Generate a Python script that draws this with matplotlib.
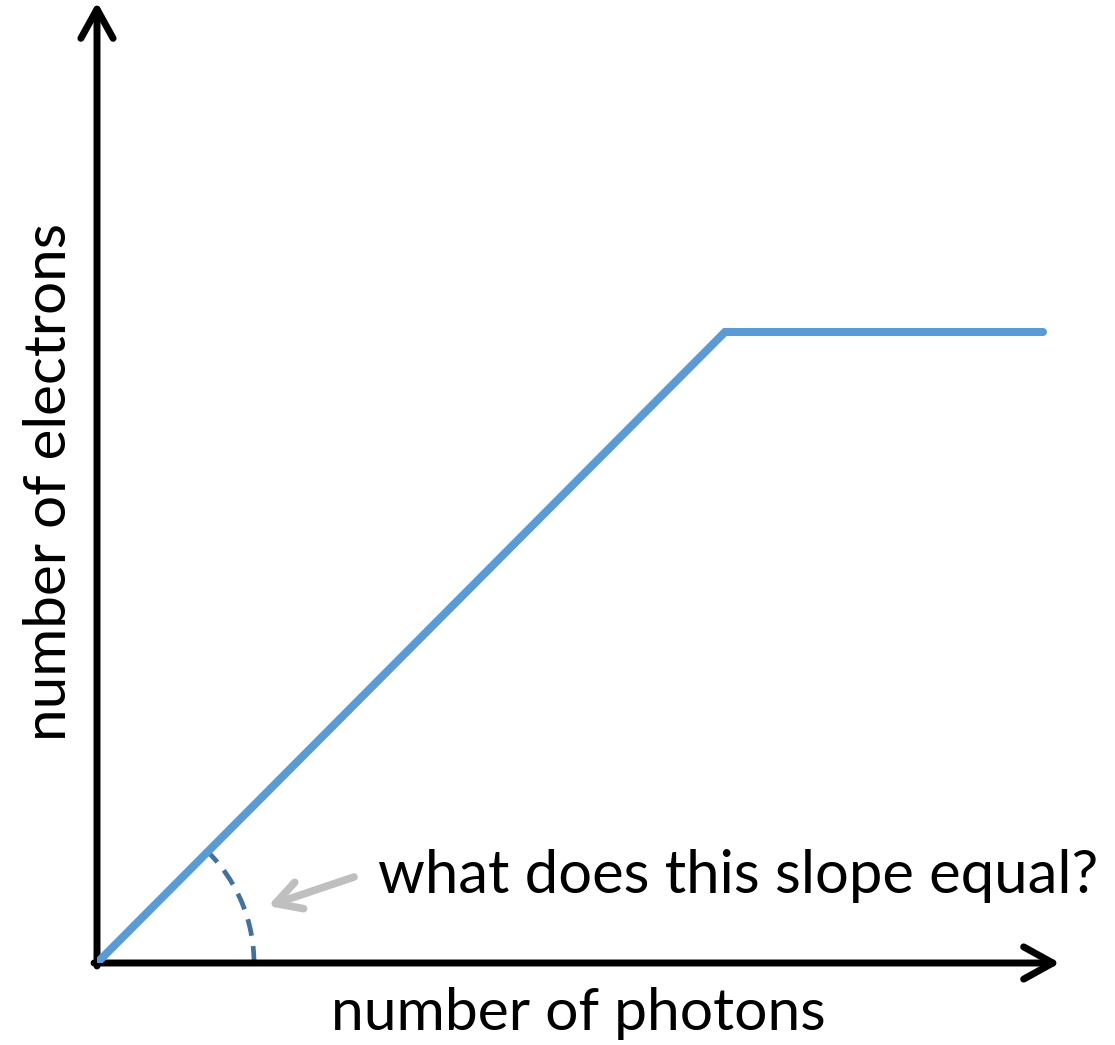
import numpy as np
import matplotlib
matplotlib.use("Agg")
import matplotlib.pyplot as plt
from matplotlib.patches import Arc

# data
photons = [0.0, 6.28, 9.46]
electrons = [0.0, 6.31, 6.31]
x_label = "number of photons"
y_label = "number of electrons"
question = "what does this slope equal?"

W, H = 1115, 1045
fig = plt.figure(figsize=(W / 100, H / 100), dpi=100)
ox, oy = 97, 82  # origin in pixels (from bottom-left)
xmax, ymax = 9.6, 9.58
ax = fig.add_axes([ox / W, oy / H, 960 / W, 958 / H])
ax.set_xlim(0, xmax)
ax.set_ylim(0, ymax)
ax.set_axis_off()

FONT = ["Lato", "DejaVu Sans"]

def axis_arrow(xy, xytext):
    ax.annotate("", xy=xy, xytext=xytext,
                arrowprops=dict(arrowstyle="->,head_length=1.05,head_width=0.58",
                                mutation_scale=20, lw=5.0,
                                color="black", shrinkA=0, shrinkB=0,
                                joinstyle="round", capstyle="round"),
                annotation_clip=False)

axis_arrow((xmax + 0.03, 0), (-0.03, 0))
axis_arrow((0, ymax + 0.03), (0, -0.03))

# main line
ax.plot(photons, electrons, color="#5B9BD5", lw=5.8, solid_capstyle="round",
        solid_joinstyle="miter", zorder=3)

# dashed arc for slope angle
r = 1.57
arc = Arc((0, 0), 2 * r, 2 * r, theta1=0, theta2=45, color="#41719C", lw=3.4,
          linestyle=(0, (3.6, 2.2)), zorder=2)
ax.add_patch(arc)

# gray pointer arrow
ax.annotate("", xy=(1.71, 0.57), xytext=(2.57, 0.86),
            arrowprops=dict(arrowstyle="->,head_length=0.9,head_width=0.5",
                            mutation_scale=20, lw=5.5,
                            color="#BFBFBF", shrinkA=0, shrinkB=0,
                            joinstyle="round", capstyle="round"))

fig.text(378 / W, 1 - 876 / H, question, fontsize=43, family=FONT,
         ha="left", va="center")
fig.text(578 / W, 1 - 1013 / H, x_label, fontsize=42.3, family=FONT,
         ha="center", va="center")
fig.text(50 / W, 1 - 482 / H, y_label, fontsize=42, family=FONT,
         ha="center", va="center", rotation=90)

fig.savefig("out.png", dpi=100)
